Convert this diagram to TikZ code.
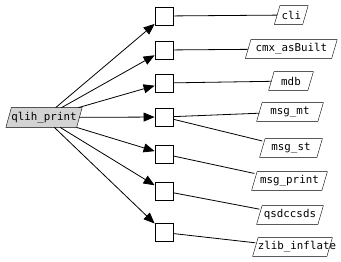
\documentclass[tikz,border=0pt]{standalone}
\usepackage{fontspec}
\setmonofont{DejaVu Sans Mono}
\usetikzlibrary{arrows.meta,backgrounds}
\definecolor{fnfill}{RGB}{211,211,211}
\newcommand\drawpara[2]{%
  \filldraw[fill=#2] ([xshift=-2.75pt]#1.south west) -- ([xshift=2.75pt]#1.north west)
    -- ([xshift=2.75pt]#1.north east) -- ([xshift=-2.75pt]#1.south east) -- cycle;}
\begin{document}
\begin{tikzpicture}[x=1pt,y=1pt,
  line width=0.8pt,
  fn/.style={rectangle, inner sep=0pt, minimum height=18pt,
    font=\fontsize{10.8}{12}\selectfont\ttfamily},
  callbox/.style={rectangle, draw, minimum width=18pt, minimum height=18pt, inner sep=0pt},
  call/.style={-{Triangle[length=11pt,width=9pt]}},
  link/.style={-}]
\useasboundingbox (0,0) rectangle (341,-262);
\node[fn, minimum width=70pt, minimum height=19pt] (q) at (44,-117.5) {\makebox[0pt]{qlih\_print}};
\node[callbox] (s1) at (164,-16) {};
\node[callbox] (s2) at (164,-50) {};
\node[callbox] (s3) at (164,-83) {};
\node[callbox] (s4) at (164,-117) {};
\node[callbox] (s5) at (164,-154) {};
\node[callbox] (s6) at (164,-191) {};
\node[callbox] (s7) at (164,-232.5) {};
\node[fn, minimum width=27.5pt] (cli) at (291.3,-15) {\makebox[0pt]{cli}};
\node[fn, minimum width=85.5pt] (cmx) at (291.3,-49) {\makebox[0pt]{cmx\_asBuilt}};
\node[fn, minimum width=38.5pt] (mdb) at (291,-81) {\makebox[0pt]{mdb}};
\node[fn, minimum width=60.5pt] (mt) at (290,-112) {\makebox[0pt]{msg\_mt}};
\node[fn, minimum width=56.5pt] (st) at (291,-148) {\makebox[0pt]{msg\_st}};
\node[fn, minimum width=69.5pt] (mp) at (289.5,-181) {\makebox[0pt]{msg\_print}};
\node[fn, minimum width=60.5pt] (qs) at (290,-215) {\makebox[0pt]{qsdccsds}};
\node[fn, minimum width=73.5pt] (zl) at (292.5,-247) {\makebox[0pt]{\hspace{9pt}zlib\_inflate}};
\begin{scope}[on background layer]
  \drawpara{q}{fnfill}
  \foreach \n in {cli,cmx,mdb,mt,st,mp,qs,zl} {\drawpara{\n}{white}}
\end{scope}
\foreach \s in {s1,s2,s3,s4,s5,s6,s7} \draw[call] (q) -- (\s);
\draw[link] (s1) -- (cli);
\draw[link] (s2) -- (cmx);
\draw[link] (s3) -- (mdb);
\draw[link] (s4) -- (mt);
\draw[link] (s4) -- (st);
\draw[link] (s5) -- (mp);
\draw[link] (s6) -- (qs);
\draw[link] (s7) -- (zl);
\end{tikzpicture}
\end{document}
